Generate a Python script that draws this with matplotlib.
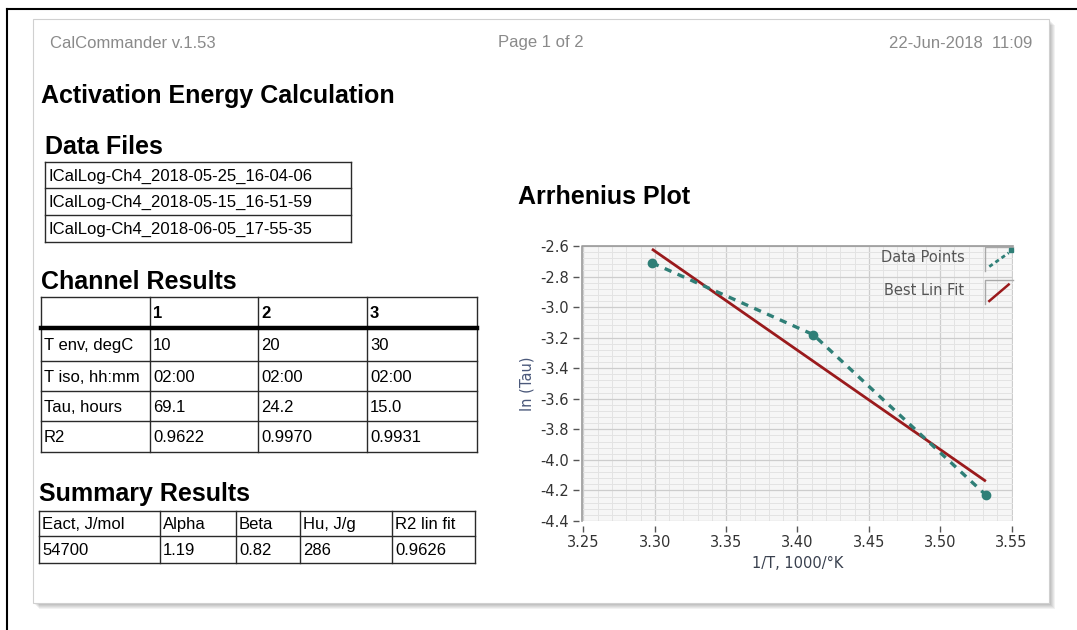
import matplotlib
matplotlib.use('Agg')
import matplotlib.pyplot as plt
from matplotlib.patches import Rectangle
from matplotlib.ticker import MultipleLocator

# report header
app_name = 'CalCommander v.1.53'
page_info = 'Page 1 of 2'
stamp = '22-Jun-2018  11:09'

data_files = ['ICalLog-Ch4_2018-05-25_16-04-06',
              'ICalLog-Ch4_2018-05-15_16-51-59',
              'ICalLog-Ch4_2018-06-05_17-55-35']

channel_header = ['', '1', '2', '3']
channel_rows = [['T env, degC', '10', '20', '30'],
                ['T iso, hh:mm', '02:00', '02:00', '02:00'],
                ['Tau, hours', '69.1', '24.2', '15.0'],
                ['R2', '0.9622', '0.9970', '0.9931']]

summary_header = ['Eact, J/mol', 'Alpha', 'Beta', 'Hu, J/g', 'R2 lin fit']
summary_values = ['54700', '1.19', '0.82', '286', '0.9626']

# arrhenius plot
inv_t = [3.298, 3.411, 3.532]
ln_tau = [-2.71, -3.18, -4.23]
fit_x = [3.298, 3.532]
fit_y = [-2.62, -4.14]
x_ticks = [3.25, 3.30, 3.35, 3.40, 3.45, 3.50, 3.55]
y_ticks = [-2.6, -2.8, -3.0, -3.2, -3.4, -3.6, -3.8, -4.0, -4.2, -4.4]

TEAL = '#2f7f77'
MAROON = '#9a1a1c'
DOC_FONT = ['Liberation Sans', 'DejaVu Sans']

W, H = 1077, 630
fig = plt.figure(figsize=(W / 100, H / 100), dpi=100)
fig.patch.set_facecolor('white')

# page in pixel coords
bg = fig.add_axes([0, 0, 1, 1])
bg.set_xlim(0, W)
bg.set_ylim(H, 0)
bg.axis('off')

bg.plot([7, W], [9, 9], color='black', lw=1.5)
bg.plot([7, 7], [9, H], color='black', lw=1.5)

# shadow + page
for k in range(1, 7):
    bg.add_patch(Rectangle((33 + k, 19 + k), 1016, 584, facecolor='black',
                           edgecolor='none', alpha=0.05))
bg.add_patch(Rectangle((33, 19), 1016, 584, facecolor='white',
                       edgecolor='#d0d0d0', lw=0.8))

bg.text(50, 43, app_name, fontsize=12, color='#8a8a8a', va='center', family=DOC_FONT)
bg.text(498, 43, page_info, fontsize=12, color='#8a8a8a', va='center', family=DOC_FONT)
bg.text(1032, 43, stamp, fontsize=12, color='#8a8a8a', va='center', ha='right', family=DOC_FONT)

bg.text(41, 96, 'Activation Energy Calculation', fontsize=18, fontweight='bold',
        va='center', family=DOC_FONT)
bg.text(45, 147, 'Data Files', fontsize=18, fontweight='bold', va='center', family=DOC_FONT)
bg.text(41, 282, 'Channel Results', fontsize=18, fontweight='bold', va='center', family=DOC_FONT)
bg.text(39, 494, 'Summary Results', fontsize=18, fontweight='bold', va='center', family=DOC_FONT)
bg.text(518, 197, 'Arrhenius Plot', fontsize=18, fontweight='bold', va='center', family=DOC_FONT)


def draw_table(xs, ys, rows, bold_rows=()):
    for x in xs:
        bg.plot([x, x], [ys[0], ys[-1]], color='#2a2a2a', lw=1)
    for y in ys:
        bg.plot([xs[0], xs[-1]], [y, y], color='#2a2a2a', lw=1)
    for i, row in enumerate(rows):
        yc = (ys[i] + ys[i + 1]) / 2 + 1
        for j, txt in enumerate(row):
            bg.text(xs[j] + 3, yc, txt, fontsize=12, va='center', ha='left',
                    family=DOC_FONT,
                    fontweight='bold' if i in bold_rows else 'normal')


draw_table([45, 351], [162, 188, 215, 242], [[f] for f in data_files])

ch_ys = [297, 328, 361, 391, 421, 452]
draw_table([41, 150, 258, 367, 477], ch_ys, [channel_header] + channel_rows,
           bold_rows=(0,))
bg.plot([41, 477], [ch_ys[1], ch_ys[1]], color='black', lw=3.2)

draw_table([39, 160, 236, 300, 392, 475], [511, 536, 563],
           [summary_header, summary_values])

# plot axes
left, right, top, bottom = 582, 1013, 246, 521
ax = fig.add_axes([left / W, 1 - bottom / H, (right - left) / W, (bottom - top) / H])
ax.set_facecolor('#f6f6f6')

ax.plot(fit_x, fit_y, color=MAROON, lw=2, solid_capstyle='butt', zorder=3)
ax.plot(inv_t, ln_tau, color=TEAL, lw=2.4, ls=(0, (2.2, 2.0)), marker='o',
        markersize=6, zorder=4)

ax.set_xlim(3.249, 3.551)
ax.set_ylim(-4.4, -2.6)
ax.set_xticks(x_ticks)
ax.set_yticks(y_ticks)
ax.set_xticklabels(['%.2f' % v for v in x_ticks])
ax.set_yticklabels(['%.1f' % v for v in y_ticks])
ax.xaxis.set_minor_locator(MultipleLocator(0.01))
ax.yaxis.set_minor_locator(MultipleLocator(0.04))
ax.grid(which='major', color='#cdcdcd', lw=0.9)
ax.grid(which='minor', color='#e3e3e3', lw=0.7)
ax.set_axisbelow(True)

for side in ['top', 'right', 'left', 'bottom']:
    ax.spines[side].set_visible(False)
ax.spines['left'].set_position(('outward', 2.5))
ax.spines['bottom'].set_position(('outward', 3.6))
ax.plot([0, 0, 1], [0, 1, 1], transform=ax.transAxes, color='#9a9a9a', lw=1.2,
        clip_on=False, zorder=5)

ax.tick_params(axis='both', which='minor', length=0)
ax.tick_params(axis='y', which='major', length=4.3, width=1, color='#555555',
               labelsize=10.5, labelcolor='#333333', pad=2.5)
ax.tick_params(axis='x', which='major', length=4.3, width=1, color='#555555',
               labelsize=10.5, labelcolor='#333333', pad=2.5)

ax.set_xlabel('1/T, 1000/°K', fontsize=10.5, color='#39404e', labelpad=4)
ax.set_ylabel('ln (Tau)', fontsize=10.5, color='#4a587a', labelpad=4)

# legend drawn as LabVIEW-style plot legend
ax.text(0.887, 0.957, 'Data Points', transform=ax.transAxes, fontsize=10.5,
        color='#555555', ha='right', va='center', zorder=6)
ax.text(0.887, 0.838, 'Best Lin Fit', transform=ax.transAxes, fontsize=10.5,
        color='#555555', ha='right', va='center', zorder=6)
for yb in (0.91, 0.79):
    ax.plot([0.935, 0.935, 1.0], [yb, yb + 0.085, yb + 0.085], transform=ax.transAxes,
            color='#a8a8a8', lw=1, clip_on=False, zorder=6)
ax.plot([0.945, 0.99], [0.925, 0.975], transform=ax.transAxes, color=TEAL, lw=2,
        ls=(0, (1.5, 1.2)), clip_on=False, zorder=6)
ax.plot([0.995], [0.985], transform=ax.transAxes, color=TEAL, marker='s',
        markersize=3.5, clip_on=False, zorder=6)
ax.plot([0.945, 0.99], [0.8, 0.86], transform=ax.transAxes, color=MAROON, lw=1.8,
        clip_on=False, zorder=6)

fig.savefig('out.png', dpi=100)
